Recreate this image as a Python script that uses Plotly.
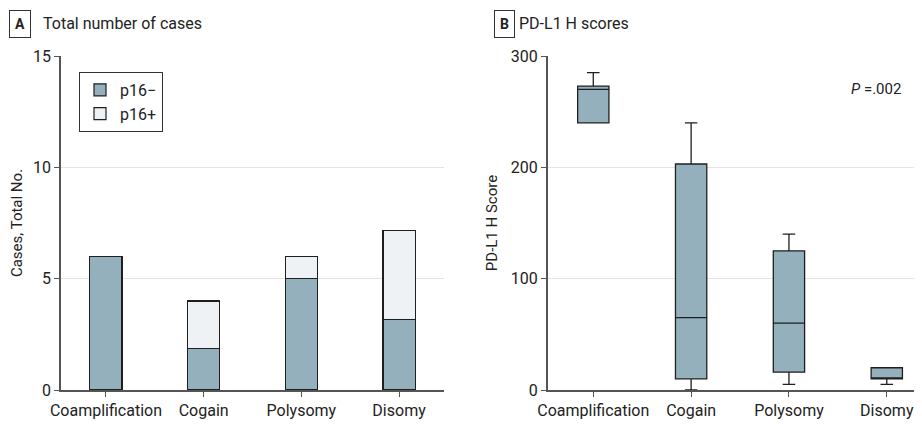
import plotly.graph_objects as go

categories = ["Coamplification", "Cogain", "Polysomy", "Disomy"]
p16_neg = [6, 1.85, 5, 3.15]
p16_pos = [0, 2.15, 1, 4.0]

# PD-L1 H score box stats
box_q1 = [240, 10, 16, 10]
box_median = [270, 65, 60, 10]
box_q3 = [273, 203, 125, 20]
box_low = [240, 0, 5, 5]
box_high = [285, 240, 140, 20]

yticks_a = [0, 5, 10, 15]
yticks_b = [0, 100, 200, 300]

FONT = "Roboto"
DARK = "#1f1f1f"
BLUE = "#93b0bc"
LIGHT = "#eef2f5"
GRID = "#e4e4e4"
AX = "#555555"

OFF = 8  # page body margin
W, H = 922 - OFF, 430 - OFF

def px(x):
    return (x - OFF) / W

def py(y):
    return 1 - (y - OFF) / H

fig = go.Figure()

fig.add_trace(go.Bar(
    x=categories, y=p16_neg, name="p16−", legendgroup="neg",
    marker=dict(color=BLUE, line=dict(color=DARK, width=1.2)),
    width=0.33, xaxis="x", yaxis="y",
))
fig.add_trace(go.Bar(
    x=categories, y=[v if v else None for v in p16_pos], name="p16+", legendgroup="pos",
    marker=dict(color=LIGHT, line=dict(color=DARK, width=1.2)),
    width=0.33, xaxis="x", yaxis="y",
))

fig.add_trace(go.Box(
    x=categories, q1=box_q1, median=box_median, q3=box_q3,
    lowerfence=box_low, upperfence=box_high,
    fillcolor=BLUE, line=dict(color=DARK, width=1.3), width=0.32, whiskerwidth=0.4,
    xaxis="x2", yaxis="y2", showlegend=False, boxpoints=False,
))

ydom = [py(390), py(56)]
TICKF = dict(size=16)

fig.update_layout(
    width=W, height=H, margin=dict(l=0, r=0, t=0, b=0, autoexpand=False),
    paper_bgcolor="white", plot_bgcolor="white",
    font=dict(family=FONT, size=14, color="#222"),
    barmode="stack",
    xaxis=dict(domain=[px(61), px(444)], range=[-0.46, 3.46], type="category", automargin=False,
               showline=True, linecolor=AX, linewidth=1.5, ticks="outside", ticklen=5, tickcolor=AX,
               tickfont=TICKF, showgrid=False, anchor="y"),
    yaxis=dict(domain=ydom, range=[0, 15], tickvals=yticks_a, showline=True, linecolor=AX, linewidth=1.5,
               ticks="outside", ticklen=5, tickcolor=AX, showgrid=True, gridcolor=GRID, gridwidth=1,
               zeroline=False, tickfont=TICKF, anchor="x", automargin=False,
               title=dict(text="Cases, Total No.", font=dict(size=15), standoff=10)),
    xaxis2=dict(domain=[px(547.7), 1.0], range=[-0.466, 3.36], type="category", automargin=False,
                showline=True, linecolor=AX, linewidth=1.5, ticks="outside", ticklen=5, tickcolor=AX,
                tickfont=TICKF, showgrid=False, anchor="y2"),
    yaxis2=dict(domain=ydom, range=[0, 300], tickvals=yticks_b, showline=True, linecolor=AX, linewidth=1.5,
                ticks="outside", ticklen=5, tickcolor=AX, showgrid=True, gridcolor=GRID, gridwidth=1,
                zeroline=False, tickfont=TICKF, anchor="x2", automargin=False,
                title=dict(text="PD-L1 H Score", font=dict(size=15), standoff=10)),
    legend=dict(x=px(79), y=py(72), xanchor="left", yanchor="top", bordercolor="#333", borderwidth=1,
                bgcolor="white", font=dict(size=16), traceorder="normal", tracegroupgap=5,
                itemwidth=30),
    showlegend=True,
)

anns = [
    dict(text="<b>A</b>", x=px(20), y=py(24.5), xref="paper", yref="paper", showarrow=False,
         bordercolor="#333", borderwidth=1, borderpad=5, font=dict(size=14), xanchor="center", yanchor="middle"),
    dict(text="Total number of cases", x=px(41), y=py(24), xref="paper", yref="paper", showarrow=False,
         font=dict(size=16), xanchor="left", yanchor="middle"),
    dict(text="<b>B</b>", x=px(504), y=py(24.5), xref="paper", yref="paper", showarrow=False,
         bordercolor="#333", borderwidth=1, borderpad=5, font=dict(size=14), xanchor="center", yanchor="middle"),
    dict(text="PD-L1 H scores", x=px(517), y=py(24), xref="paper", yref="paper", showarrow=False,
         font=dict(size=16), xanchor="left", yanchor="middle"),
    dict(text="<i>P</i> =.002", x=px(903), y=py(89), xref="paper", yref="paper", showarrow=False,
         font=dict(size=15), xanchor="right", yanchor="middle"),
]
fig.update_layout(annotations=anns)

fig.write_html("out.html")
